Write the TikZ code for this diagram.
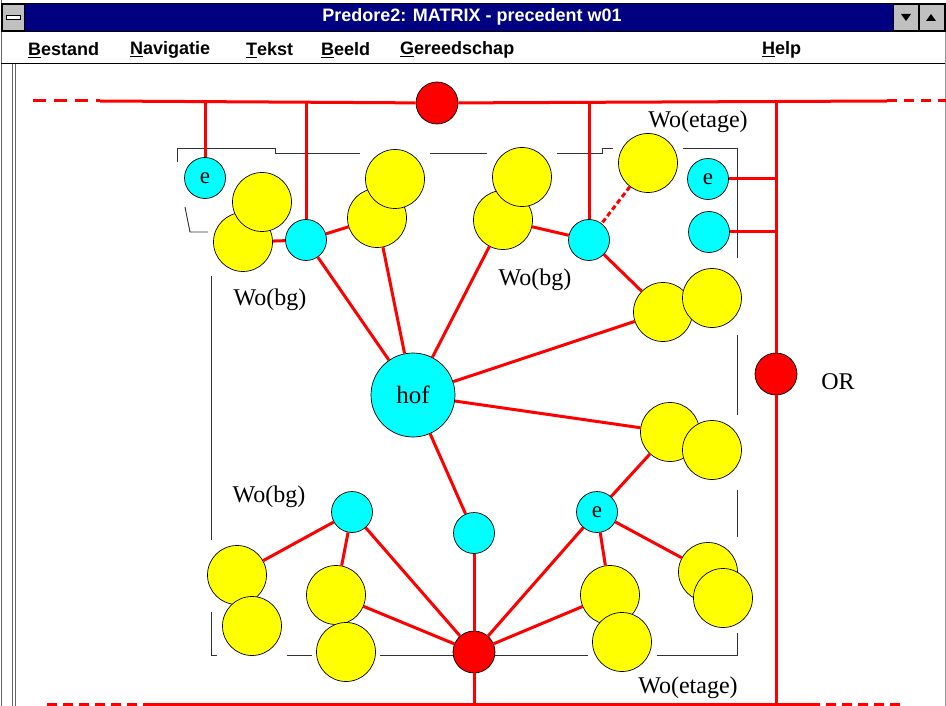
\documentclass[tikz,border=0pt]{standalone}
\usepackage{fontspec}
\setmainfont{Liberation Serif}
\newfontfamily\winfont{Liberation Sans}
\definecolor{titelblauw}{HTML}{000080}
\definecolor{knopgrijs}{HTML}{C0C0C0}
\definecolor{geel}{HTML}{FFFF00}
\definecolor{cyaan}{HTML}{00FFFF}
\definecolor{rood}{HTML}{FF0000}
\tikzset{
  bol/.style={circle, draw=black, line width=0.7pt, inner sep=0pt},
  geelbol/.style={bol, fill=geel, minimum size=59pt},
  cyaanbol/.style={bol, fill=cyaan, minimum size=41pt, font=\fontsize{23}{23}\selectfont},
  roodbol/.style={bol, fill=rood, minimum size=42pt},
  lijn/.style={draw=rood, line width=3pt},
  streep/.style={lijn, dash pattern=on 13pt off 8pt},
  grens/.style={draw=black!80, line width=0.9pt},
  tekst/.style={font=\fontsize{24}{24}\selectfont, inner sep=0pt},
  menu/.style={font=\winfont\bfseries\fontsize{18}{18}\selectfont, anchor=west, inner sep=0pt},
}
\begin{document}
\begin{tikzpicture}[x=1pt, y=-1pt]
\useasboundingbox (0,0) rectangle (946,706);
%venster
\draw[black!60] (1,0) -- (1,706);
\draw[black!40] (945,31) -- (945,706);
\draw[black!60] (12,63) -- (12,706);
\draw[black!60] (15,63) -- (15,706);
%titelbalk
\draw[fill=titelblauw] (1,3) rectangle (945,31);
\draw[fill=knopgrijs] (2,4) rectangle (24,30);
\draw[fill=white] (6,15) rectangle (20,19);
\draw[fill=knopgrijs] (893,4) rectangle (918,30);
\draw[fill=knopgrijs] (919,4) rectangle (944,30);
\fill (901,14) -- (911,14) -- (906,21) -- cycle;
\fill (926,21) -- (936,21) -- (931,14) -- cycle;
\node[font=\winfont\bfseries\fontsize{18}{18}\selectfont, text=white] (titel) at (472,17) {Predore2: MATRIX - precedent w01};
%menu
\draw (1,63) -- (945,63);
\node[menu] (bestand) at (28,50) {\underline{B}estand};
\node[menu] (navigatie) at (130,50) {\underline{N}avigatie};
\node[menu] (tekst) at (246,50) {\underline{T}ekst};
\node[menu] (beeld) at (321,50) {\underline{B}eeld};
\node[menu] (gereedschap) at (400,50) {\underline{G}ereedschap};
\node[menu] (help) at (762,50) {\underline{H}elp};

%grens woning
\draw[grens] (177,162) -- (177,148) -- (275,148) -- (275,153) -- (360,153);
\draw[grens] (430,153) -- (487,153);
\draw[grens] (557,153) -- (602,153) -- (602,148) -- (613,148);
\draw[grens] (683,148) -- (737,148) -- (737,258);
\draw[grens] (737,335) -- (737,415);
\draw[grens] (737,490) -- (737,537);
\draw[grens] (737,633) -- (737,655) -- (657,655);
\draw[grens] (588,655) -- (380,655);
\draw[grens] (312,655) -- (287,655);
\draw[grens] (217,655) -- (211,655) -- (211,612);
\draw[grens] (211,540) -- (211,276);
\draw[grens] (185,207) -- (190,232) -- (208,232);

%rode knopen
\node[roodbol] (r1) at (437,103) {};
\node[roodbol] (or) at (776,374) {};
\node[roodbol] (r2) at (474,652) {};
%cyaan knopen
\node[cyaanbol] (e1) at (205,178) {e};
\node[cyaanbol] (c1) at (306,240) {};
\node[cyaanbol] (c2) at (589,240) {};
\node[cyaanbol] (e2) at (708,179) {e};
\node[cyaanbol] (c3) at (709,232) {};
\node[cyaanbol, minimum size=84pt, font=\fontsize{25}{25}\selectfont] (hof) at (413,395) {hof};
\node[cyaanbol] (c4) at (352,512) {};
\node[cyaanbol] (c5) at (474,533) {};
\node[cyaanbol] (e3) at (597,512) {e};
%gele kamers
\node[geelbol] (y2) at (243,242) {};
\node[geelbol] (y1) at (262,202) {};
\node[geelbol] (y4) at (377,218) {};
\node[geelbol] (y3) at (395,179) {};
\node[geelbol] (y6) at (503,220) {};
\node[geelbol] (y5) at (522,177) {};
\node[geelbol] (y7) at (648,163) {};
\node[geelbol] (y8) at (663,312) {};
\node[geelbol] (y9) at (712,298) {};
\node[geelbol] (y10) at (670,432) {};
\node[geelbol] (y11) at (712,450) {};
\node[geelbol] (y12) at (237,575) {};
\node[geelbol] (y13) at (252,626) {};
\node[geelbol] (y14) at (336,595) {};
\node[geelbol] (y15) at (346,652) {};
\node[geelbol] (y16) at (610,595) {};
\node[geelbol] (y17) at (622,642) {};
\node[geelbol] (y18) at (708,572) {};
\node[geelbol] (y19) at (723,598) {};

%hoofdleidingen
\coordinate (lb) at (33,101);
\coordinate (la) at (100,101);
\coordinate (ra) at (887,101);
\coordinate (rb) at (946,101);
\coordinate (t4) at (776,101);
\coordinate (b4) at (776,704);
\coordinate (bl) at (47,704);
\coordinate (bla) at (147,704);
\coordinate (bra) at (810,704);
\coordinate (brb) at (903,704);
\draw[streep] (lb) -- (la);
\draw[lijn] (la) -- (r1) -- (ra);
\draw[streep, dash pattern=on 10pt off 7pt] (ra) -- (rb);
\draw[streep, dash pattern=on 10pt off 6pt] (bl) -- (bla);
\draw[lijn] (bla) -- (bra);
\draw[streep, dash pattern=on 10pt off 6pt] (bra) -- (brb);
\draw[lijn] (t4) -- (or) -- (b4);
\draw[lijn] (e1) -- (e1 |- la);
\draw[lijn] (c1) -- (c1 |- la);
\draw[lijn] (c2) -- (c2 |- la);
\draw[lijn] (e2) -- (e2 -| t4);
\draw[lijn] (c3) -- (c3 -| t4);
\draw[lijn] (r2) -- (r2 |- bla);
%verbindingen
\draw[lijn] (c1) -- (y2);
\draw[lijn] (c1) -- (y4);
\draw[lijn] (c2) -- (y6);
\draw[lijn] (c2) -- (y8);
\draw[lijn, dash pattern=on 5pt off 3pt] (y7) -- (c2);
\draw[lijn] (hof) -- (c1);
\draw[lijn] (hof) -- (y4);
\draw[lijn] (hof) -- (y6);
\draw[lijn] (hof) -- (y8);
\draw[lijn] (hof) -- (y10);
\draw[lijn] (hof) -- (c5);
\draw[lijn] (c5) -- (r2);
\draw[lijn] (c4) -- (y12);
\draw[lijn] (c4) -- (y14);
\draw[lijn] (c4) -- (r2);
\draw[lijn] (y14) -- (r2);
\draw[lijn] (r2) -- (e3);
\draw[lijn] (r2) -- (y16);
\draw[lijn] (e3) -- (y16);
\draw[lijn] (e3) -- (y18);
\draw[lijn] (e3) -- (y10);

%teksten
\node[tekst] (woetage1) at (698,122) {Wo(etage)};
\node[tekst] (wobg1) at (270,300) {Wo(bg)};
\node[tekst] (wobg2) at (535,280) {Wo(bg)};
\node[tekst] (wobg3) at (269,497) {Wo(bg)};
\node[tekst] (woetage2) at (688,688) {Wo(etage)};
\node[tekst] (orlabel) at (838,382) {OR};
\end{tikzpicture}
\end{document}
